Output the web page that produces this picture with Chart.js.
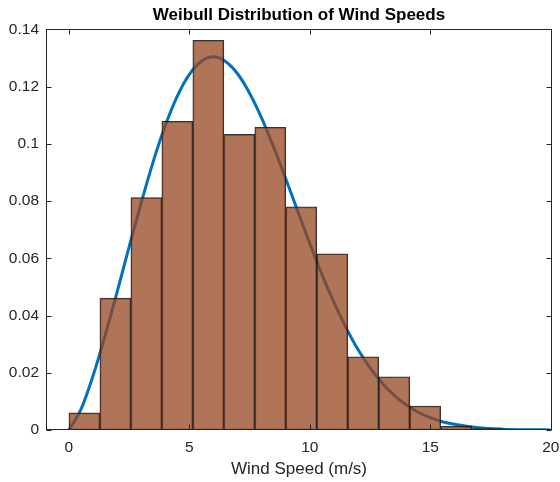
<!DOCTYPE html>
<html><head><meta charset="utf-8">
<script src="https://cdn.jsdelivr.net/npm/chart.js@4.4.1/dist/chart.umd.min.js"></script>
<style>html,body{margin:0;padding:0;background:#fff}#wrap{width:560px;height:482px}</style>
</head><body><div id="wrap"><canvas id="c" width="560" height="482"></canvas></div>
<script>
// Histogram bins (m/s) and normalized heights
const binEdges = [0, 1.286, 2.572, 3.858, 5.144, 6.43, 7.716, 9.002, 10.288, 11.574, 12.86, 14.146, 15.432, 16.718, 18.004, 19.29];
const binHeights = [0.0060, 0.0461, 0.0812, 0.1079, 0.1362, 0.1033, 0.1058, 0.0780, 0.0616, 0.0256, 0.0186, 0.0084, 0.0013, 0.0005, 0.0003];
// Fitted Weibull pdf curve
const curveX = [0, 0.5, 1, 1.5, 2, 2.5, 3, 3.5, 4, 4.5, 5, 5.5, 6, 6.5, 7, 7.5, 8, 8.5, 9, 9.5, 10, 10.5, 11, 11.5, 12, 12.5, 13, 13.5, 14, 14.5, 15, 15.5, 16, 17, 18, 19, 20];
const curveY = [0, 0.0072, 0.0189, 0.0329, 0.0482, 0.0640, 0.0794, 0.0938, 0.1064, 0.1167, 0.1243, 0.1289, 0.1304, 0.1288, 0.1245, 0.1177, 0.1090, 0.0988, 0.0878, 0.0764, 0.0651, 0.0544, 0.0446, 0.0358, 0.0281, 0.0217, 0.0164, 0.0121, 0.0088, 0.0062, 0.0043, 0.0029, 0.0020, 0.0008, 0.0003, 0.0001, 0.00003];
const xTicks = [0, 5, 10, 15, 20];
const yTicks = [0, 0.02, 0.04, 0.06, 0.08, 0.1, 0.12, 0.14];

const FONT = "'Liberation Sans', Arial, Helvetica, sans-serif";
const AX = '#262626';

const boxPlugin = {
  id: 'box',
  afterDatasetsDraw(chart) {
    const {ctx, chartArea: a, scales: {x, y}} = chart;
    ctx.save();
    ctx.strokeStyle = AX; ctx.lineWidth = 1;
    const L = Math.round(a.left) + 0.5, R = Math.round(a.right) - 0.5;
    const T = Math.round(a.top) + 0.5, B = Math.round(a.bottom) - 0.5;
    ctx.strokeRect(L, T, R - L, B - T);
    ctx.beginPath();
    x.ticks.forEach(t => {
      const px = Math.round(x.getPixelForValue(t.value)) + 0.5;
      ctx.moveTo(px, B); ctx.lineTo(px, B - 5);
      ctx.moveTo(px, T); ctx.lineTo(px, T + 5);
    });
    y.ticks.forEach(t => {
      const py = Math.round(y.getPixelForValue(t.value)) + 0.5;
      ctx.moveTo(L, py); ctx.lineTo(L + 5, py);
      ctx.moveTo(R, py); ctx.lineTo(R - 5, py);
    });
    ctx.stroke();
    ctx.restore();
  }
};

new Chart(document.getElementById('c'), {
  type: 'bar',
  data: {
    datasets: [
      {
        type: 'bar',
        data: binHeights.map((h, i) => ({x: (binEdges[i] + binEdges[i + 1]) / 2, y: h})),
        backgroundColor: 'rgba(150,70,32,0.75)',
        borderColor: 'rgba(15,15,15,0.85)',
        borderWidth: 1,
        borderSkipped: false,
        barPercentage: 1,
        categoryPercentage: 1,
        grouped: false,
        order: 1
      },
      {
        type: 'line',
        data: curveX.map((v, i) => ({x: v, y: curveY[i]})),
        borderColor: '#0072BD',
        borderWidth: 3,
        pointRadius: 0,
        fill: false,
        cubicInterpolationMode: 'monotone',
        order: 2
      }
    ]
  },
  options: {
    responsive: false,
    devicePixelRatio: 1,
    animation: false,
    layout: {padding: {left: 0, right: 8, top: 0, bottom: 0}},
    plugins: {
      legend: {display: false},
      tooltip: {enabled: false},
      title: {
        display: true,
        text: 'Weibull Distribution of Wind Speeds',
        color: '#000',
        fullSize: false,
        font: {family: FONT, size: 17, weight: 'bold'},
        padding: {top: 5, bottom: 4}
      }
    },
    scales: {
      x: {
        type: 'linear',
        offset: false,
        min: -0.95,
        max: 20.05,
        grid: {display: false, drawTicks: false},
        border: {display: false},
        afterBuildTicks: s => { s.ticks = xTicks.map(v => ({value: v})); },
        afterFit: s => { s.height = 52; s.paddingLeft = 0; s.paddingRight = 0; },
        ticks: {color: AX, font: {family: FONT, size: 15.5}, padding: 8, maxRotation: 0, autoSkip: false},
        title: {display: true, text: 'Wind Speed (m/s)', color: AX, font: {family: FONT, size: 17}, padding: {top: 2, bottom: 2}}
      },
      y: {
        type: 'linear',
        min: 0,
        max: 0.14,
        grid: {display: false, drawTicks: false},
        border: {display: false},
        afterBuildTicks: s => { s.ticks = yTicks.map(v => ({value: v})); },
        afterFit: s => { s.width = 46; s.paddingTop = 0; s.paddingBottom = 0; },
        ticks: {color: AX, font: {family: FONT, size: 15.5}, padding: 7, callback: v => String(+v.toFixed(2))}
      }
    }
  },
  plugins: [boxPlugin]
});
</script>
</body></html>
